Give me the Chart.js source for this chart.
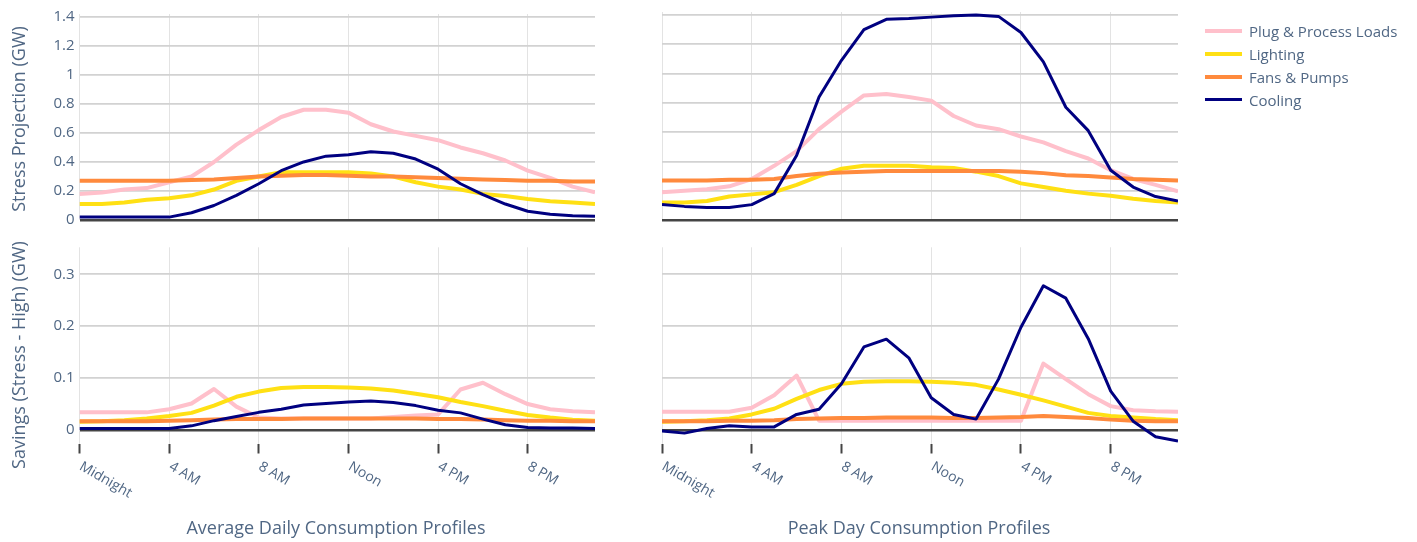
<!DOCTYPE html>
<html>
<head>
<meta charset="utf-8">
<script src="https://cdn.jsdelivr.net/npm/chart.js@4.4.1/dist/chart.umd.min.js"></script>
<style>
body { margin: 0; background: #fff; width: 1417px; height: 542px; overflow: hidden; position: relative; font-family: "Open Sans", sans-serif; color: #506784; }
canvas { position: absolute; left: 0; top: 0; }
.title { position: absolute; white-space: nowrap; font-size: 18px; transform: translate(-50%, -50%); }
.ytitle { transform: translate(-50%, -50%) rotate(-90deg); }
#legend { position: absolute; left: 1205px; top: 19px; font-size: 15px; }
.item { height: 23px; display: flex; align-items: center; }
.swatch { width: 37px; margin-right: 7px; }
</style>
</head>
<body>
<canvas id="c0" width="1417" height="542"></canvas>
<canvas id="c1" width="1417" height="542"></canvas>
<canvas id="c2" width="1417" height="542"></canvas>
<canvas id="c3" width="1417" height="542"></canvas>
<div class="title ytitle" style="left:18px;top:119px">Stress Projection (GW)</div>
<div class="title ytitle" style="left:18px;top:355px">Savings (Stress - High) (GW)</div>
<div class="title" style="left:336px;top:527px">Average Daily Consumption Profiles</div>
<div class="title" style="left:919px;top:527px">Peak Day Consumption Profiles</div>
<div id="legend"></div>
<script>
// hours of the day and axis ticks
var hours = [0,1,2,3,4,5,6,7,8,9,10,11,12,13,14,15,16,17,18,19,20,21,22,23];
var tickHours = [0, 4, 8, 12, 16, 20];
var tickLabels = ['Midnight', '4 AM', '8 AM', 'Noon', '4 PM', '8 PM'];
var stressTicks = [0, 0.2, 0.4, 0.6, 0.8, 1, 1.2, 1.4];
var savingsTicks = [0, 0.1, 0.2, 0.3];

var seriesNames = ['Plug & Process Loads', 'Lighting', 'Fans & Pumps', 'Cooling'];
var seriesColors = ['#ffc0cb', '#ffe014', '#ff8a3d', '#000080'];
var seriesWidths = [4, 4, 4, 3];

// average day, stress projection (GW)
var avgStressPlug = [0.18,0.19,0.21,0.22,0.26,0.30,0.40,0.52,0.62,0.71,0.76,0.76,0.74,0.66,0.61,0.58,0.55,0.50,0.46,0.41,0.34,0.29,0.23,0.19];
var avgStressLighting = [0.11,0.11,0.12,0.14,0.15,0.17,0.21,0.27,0.30,0.33,0.33,0.33,0.33,0.32,0.30,0.26,0.23,0.21,0.18,0.165,0.145,0.13,0.12,0.11];
var avgStressFans = [0.27,0.27,0.27,0.27,0.27,0.275,0.28,0.29,0.30,0.305,0.31,0.31,0.305,0.30,0.30,0.295,0.29,0.285,0.28,0.275,0.27,0.27,0.265,0.265];
var avgStressCooling = [0.02,0.02,0.02,0.02,0.02,0.05,0.10,0.17,0.25,0.34,0.40,0.44,0.45,0.47,0.46,0.42,0.35,0.25,0.175,0.11,0.06,0.04,0.03,0.025];

// peak day, stress projection (GW)
var peakStressPlug = [0.19,0.20,0.21,0.23,0.28,0.37,0.47,0.62,0.74,0.85,0.86,0.84,0.815,0.71,0.645,0.62,0.57,0.53,0.47,0.42,0.34,0.28,0.24,0.195];
var peakStressLighting = [0.12,0.12,0.13,0.16,0.175,0.19,0.24,0.30,0.35,0.37,0.37,0.37,0.36,0.355,0.33,0.30,0.25,0.225,0.20,0.18,0.165,0.145,0.13,0.12];
var peakStressFans = [0.27,0.27,0.27,0.275,0.275,0.28,0.30,0.315,0.325,0.33,0.335,0.335,0.335,0.335,0.335,0.335,0.33,0.32,0.305,0.30,0.29,0.28,0.275,0.27];
var peakStressCooling = [0.105,0.093,0.086,0.086,0.105,0.18,0.44,0.84,1.09,1.30,1.37,1.375,1.385,1.395,1.40,1.39,1.28,1.08,0.77,0.61,0.34,0.225,0.16,0.13];

// average day, savings (GW)
var avgSavPlug = [0.034,0.034,0.034,0.034,0.04,0.051,0.079,0.045,0.024,0.022,0.022,0.022,0.022,0.022,0.025,0.028,0.03,0.078,0.091,0.069,0.05,0.04,0.036,0.034];
var avgSavLighting = [0.016,0.017,0.019,0.022,0.027,0.033,0.047,0.064,0.074,0.081,0.083,0.083,0.082,0.080,0.076,0.070,0.063,0.054,0.046,0.037,0.029,0.024,0.020,0.018];
var avgSavFans = [0.017,0.017,0.017,0.017,0.018,0.019,0.020,0.021,0.021,0.021,0.022,0.022,0.022,0.022,0.022,0.022,0.021,0.021,0.020,0.019,0.018,0.018,0.017,0.017];
var avgSavCooling = [0.003,0.003,0.003,0.003,0.003,0.008,0.018,0.026,0.034,0.040,0.048,0.051,0.054,0.056,0.053,0.047,0.038,0.033,0.021,0.010,0.005,0.004,0.004,0.003];

// peak day, savings (GW)
var peakSavPlug = [0.035,0.035,0.035,0.035,0.043,0.067,0.105,0.018,0.018,0.018,0.018,0.018,0.018,0.018,0.018,0.018,0.018,0.128,0.098,0.069,0.046,0.038,0.036,0.035];
var peakSavLighting = [0.016,0.017,0.019,0.022,0.030,0.041,0.060,0.077,0.089,0.093,0.094,0.094,0.093,0.091,0.087,0.078,0.068,0.057,0.045,0.033,0.027,0.024,0.021,0.019];
var peakSavFans = [0.017,0.017,0.017,0.018,0.018,0.019,0.021,0.022,0.023,0.023,0.024,0.024,0.024,0.023,0.023,0.024,0.025,0.027,0.025,0.023,0.020,0.018,0.017,0.017];
var peakSavCooling = [-0.002,-0.006,0.003,0.008,0.006,0.006,0.030,0.040,0.089,0.160,0.175,0.139,0.062,0.030,0.021,0.098,0.198,0.278,0.254,0.176,0.075,0.017,-0.013,-0.021];

var textColor = '#506784';
var W = 1417, H = 542;
var yAxisW = 60;

// rotated hour labels under the bottom row
var hourLabels = {
    id: 'hourLabels',
    afterDraw: function(chart) {
        var ctx = chart.ctx, x = chart.scales.x;
        ctx.save();
        ctx.font = '14px "Open Sans"';
        ctx.fillStyle = textColor;
        ctx.textAlign = 'left';
        ctx.textBaseline = 'middle';
        for (var i = 0; i < tickHours.length; i++) {
            ctx.save();
            ctx.translate(x.getPixelForValue(tickHours[i]) + 1, x.top + 22);
            ctx.rotate(Math.PI / 6);
            ctx.fillText(tickLabels[i], 0, 0);
            ctx.restore();
        }
        ctx.restore();
    }
};

var panels = [
    {id: 'c0', series: [avgStressPlug, avgStressLighting, avgStressFans, avgStressCooling], area: [79.5, 595, 12, 220], yr: [0, 1.42], yt: stressTicks, yLab: true, bottom: false},
    {id: 'c1', series: [peakStressPlug, peakStressLighting, peakStressFans, peakStressCooling], area: [662, 1178, 12, 220], yr: [0, 1.42], yt: stressTicks, yLab: false, bottom: false},
    {id: 'c2', series: [avgSavPlug, avgSavLighting, avgSavFans, avgSavCooling], area: [79.5, 595, 247.3, 443.5], yr: [-0.026, 0.352], yt: savingsTicks, yLab: true, bottom: true},
    {id: 'c3', series: [peakSavPlug, peakSavLighting, peakSavFans, peakSavCooling], area: [662, 1178, 247.3, 443.5], yr: [-0.026, 0.352], yt: savingsTicks, yLab: false, bottom: true}
];

panels.forEach(function(pn) {
    var datasets = pn.series.map(function(vals, k) {
        return {
            label: seriesNames[k],
            data: hours.map(function(h, i) { return {x: h, y: vals[i]}; }),
            borderColor: seriesColors[k],
            borderWidth: seriesWidths[k],
            pointRadius: 0,
            tension: 0,
            borderJoinStyle: 'round',
            fill: false,
            order: 4 - k
        };
    });
    var yt = pn.yt;
    var yw = pn.yLab ? yAxisW : 0;
    new Chart(document.getElementById(pn.id), {
        type: 'line',
        data: {datasets: datasets},
        plugins: pn.bottom ? [hourLabels] : [],
        options: {
            responsive: false,
            animation: false,
            events: [],
            layout: {padding: {left: pn.area[0] - yw, right: W - pn.area[1], top: pn.area[2], bottom: H - pn.area[3]}},
            plugins: {legend: {display: false}, tooltip: {enabled: false}},
            scales: {
                x: {
                    type: 'linear', min: 0, max: 23,
                    afterBuildTicks: function(s) { s.ticks = tickHours.map(function(v) { return {value: v}; }); },
                    afterFit: function(s) { s.height = 0; },
                    border: {display: false},
                    grid: {color: '#e3e3e3', lineWidth: 1, drawTicks: pn.bottom, tickLength: 10, tickColor: '#444', tickWidth: 2},
                    ticks: {display: false}
                },
                y: {
                    min: pn.yr[0], max: pn.yr[1],
                    afterBuildTicks: function(s) { s.ticks = yt.map(function(v) { return {value: v}; }); },
                    afterFit: function(s) { s.width = yw; },
                    border: {display: false},
                    grid: {
                        drawTicks: false,
                        color: function(c) { return c.tick && c.tick.value === 0 ? '#444' : '#d2d2d2'; },
                        lineWidth: function(c) { return c.tick && c.tick.value === 0 ? 2.5 : 1.8; }
                    },
                    ticks: {display: pn.yLab, padding: 5, color: textColor, font: {family: '"Open Sans"', size: 15}, callback: function(v) { return String(v); }}
                }
            }
        }
    });
});

// legend
var legend = document.getElementById('legend');
seriesNames.forEach(function(name, k) {
    var row = document.createElement('div');
    row.className = 'item';
    var sw = document.createElement('div');
    sw.className = 'swatch';
    sw.style.height = seriesWidths[k] + 'px';
    sw.style.background = seriesColors[k];
    var t = document.createElement('span');
    t.textContent = name;
    row.appendChild(sw);
    row.appendChild(t);
    legend.appendChild(row);
});
</script>
</body>
</html>
